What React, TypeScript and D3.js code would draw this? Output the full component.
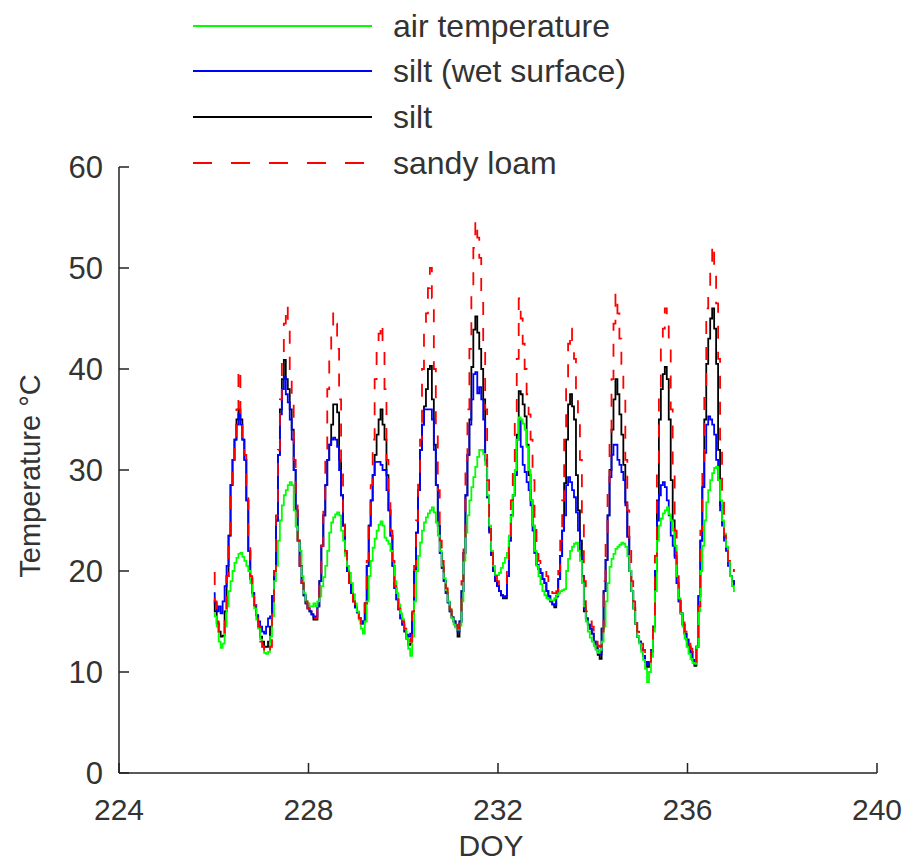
import React from "react";
import * as d3 from "d3";

// Hourly samples, DOY 226.00 .. 237.00 (one row per day, 24 values)
const START_DOY = 226;
const SAMPLES_PER_DAY = 24;

const airTemperature: number[] = [
  15.8, 15.5, 14.5, 13, 12.4, 12.8, 14.5, 16.5, 18, 19, 20, 20.8, 21.3, 21.7, 21.8, 21.4, 21, 20.5, 20, 18.8, 17.5, 16.3, 15.2, 14.3,
  13.2, 12.5, 11.9, 11.8, 12, 13.5, 15.5, 19, 20.5, 23, 25, 26.5, 27.5, 28, 28.5, 28.8, 28.5, 26, 24.4, 23, 22, 19.5, 17.8, 17,
  16.8, 16.5, 16.5, 16.8, 16.5, 17, 17.5, 18.5, 19.4, 20.5, 22, 23.8, 24.8, 25.3, 25.6, 25.8, 25.5, 24, 23, 21.5, 20.5, 19.8, 18.8, 17.7,
  16.8, 16, 15.2, 14.3, 13.8, 15, 17, 19.5, 21, 22.3, 23.2, 24, 24.6, 24.9, 24.5, 23.3, 23, 22.7, 22, 21, 19, 17.8, 16.7, 15.8,
  15.2, 14.3, 13.3, 12.3, 11.6, 13.5, 17, 20, 21.5, 22.8, 24, 24.8, 25.3, 25.7, 26, 26.3, 25.8, 24.8, 23.5, 22, 20.5, 19.3, 18.1, 17,
  16.2, 15.3, 14.7, 14.4, 14.2, 14.6, 17, 21, 23.8, 25.5, 27, 28.3, 29.3, 30.3, 31.3, 32, 32, 31.6, 30.5, 27.5, 24.5, 22, 20.5, 19.6,
  19.6, 19.8, 20.3, 20.8, 21.3, 21.8, 23.5, 25.4, 27.5, 30, 33, 35.2, 35, 34.6, 34, 32.3, 30, 27, 24.5, 22, 20.5, 19.5, 18.7, 18,
  17.6, 17.3, 17.2, 17.1, 17.1, 17.3, 17.6, 17.8, 18, 18.1, 18.2, 20, 21.2, 22, 22.4, 22.7, 22.8, 22, 21, 18.8, 16.5, 15, 14, 13.4,
  13, 12.6, 12.2, 11.9, 12.2, 13, 14.5, 17, 18.8, 20.4, 21.2, 21.7, 22.2, 22.4, 22.6, 22.8, 22.7, 22.4, 21.5, 20, 18, 16.3, 14.8, 13.5,
  12.8, 12, 11.2, 10.3, 9, 10, 11.5, 14, 18, 23, 24.5, 25.2, 25.7, 26, 26.3, 25.6, 25, 24, 22.5, 19.5, 17.3, 15.8, 14.5, 13.3,
  12.5, 11.8, 11.3, 10.9, 10.8, 12.5, 16, 20, 22.5, 25, 26.8, 28, 29, 29.7, 30.2, 30.3, 29, 27, 25, 23.7, 22.4, 21, 19.5, 18.5,
  18,
];

const siltWetSurface: number[] = [
  17.8, 16.8, 16, 16.5, 15.8, 17, 18.5, 20.5, 23.5, 28.5, 31, 33, 34.5, 35.5, 34.5, 33, 31, 27, 22, 19.2, 17.8, 16.6, 15.6, 15,
  14.5, 14, 13.8, 14.5, 15.3, 15.5, 17.5, 20, 25, 31.5, 35.5, 38, 39.2, 37.5, 36.7, 35, 33, 30, 26, 23, 20.5, 18.8, 17.6, 16.8,
  16.3, 16, 15.7, 15.4, 15.5, 16.5, 19, 22.5, 25.5, 28.5, 31, 32.5, 33, 33.2, 33, 32.3, 30, 27.5, 24.5, 21.8, 20, 18.8, 17.8, 17,
  16.4, 15.9, 15.3, 14.8, 15, 16.8, 20.5, 24.5, 27, 29.5, 30.8, 30.8, 30.8, 30.5, 30, 30, 28, 26, 23.5, 20.5, 18.3, 17.2, 16.2, 15.3,
  14.7, 14.2, 13.7, 13.5, 13.8, 15.8, 20, 23.8, 28, 32, 34.5, 36, 36, 36, 36, 35, 32, 28.5, 24.5, 21.8, 20.3, 19, 17.8, 16.9,
  16, 15.4, 15, 14.5, 14, 15, 18, 21.8, 27.5, 31.5, 34.5, 37, 39.5, 39.7, 37.6, 38.2, 37, 35, 31, 27.3, 23.8, 21.6, 20, 19,
  18.5, 18, 17.6, 17.4, 17.5, 19.5, 23, 25.5, 27.5, 29.5, 33, 35, 32.3, 30.5, 29.8, 28.8, 28, 26.5, 24, 21.8, 20.6, 20.2, 19.8, 19.2,
  18.8, 18, 17.5, 17, 16.7, 16.6, 17.5, 19.2, 21.5, 24, 25.5, 28.5, 29.3, 28.8, 28, 27.3, 25.8, 24, 21.5, 19.5, 16.3, 15.3, 14.7, 14.3,
  13.8, 13, 12.5, 12, 11.8, 14.3, 18, 21.1, 25.5, 29.3, 31.5, 32.5, 32.5, 31, 30.5, 29.8, 29, 26.5, 23.4, 20, 18, 16.3, 14.8, 13.5,
  13, 12.3, 11.6, 11, 10.7, 11, 12.2, 14.5, 20, 25, 27.5, 28.5, 28.8, 28.3, 27, 25.5, 23.5, 22.5, 21.3, 18.8, 17, 15.8, 14.7, 13.8,
  13.2, 12.5, 12, 11.2, 10.8, 12.5, 17.5, 23, 28.3, 31.7, 34.5, 35.3, 35, 34.5, 33.5, 31, 29, 26, 24.5, 23, 22, 20.5, 19.5, 19,
  18.6,
];

const silt: number[] = [
  17, 16, 14.8, 14, 13.5, 13.6, 16, 19.5, 23.5, 28.5, 31, 33, 35, 36, 35, 33, 31, 27, 22, 19.2, 17.8, 16.6, 15.6, 14.5,
  13.5, 13, 12.5, 12.5, 13, 14.5, 17.5, 20, 25, 31.5, 36, 39, 40.9, 39, 38, 36, 34, 30, 26, 23, 20.5, 18.8, 17.6, 16.8,
  16.3, 16, 15.7, 15.2, 15.2, 16.5, 19, 22.5, 25.5, 28.5, 31, 32.5, 34.5, 36.5, 36.5, 35.7, 31, 27.5, 24.5, 21.8, 20, 18.8, 17.8, 17,
  16.4, 15.9, 15.3, 14.8, 15, 16.8, 20.5, 24.5, 27, 29.5, 31.5, 33.5, 35, 36, 34.5, 33, 29.5, 26, 23.5, 20.5, 18.3, 17.2, 16.2, 15.3,
  14.7, 14, 13.3, 12.7, 12.8, 15.8, 20, 23.8, 28, 32, 34.5, 36.3, 38, 40, 40.3, 37, 32.5, 28.5, 24.5, 21.8, 20.3, 19, 17.8, 16.9,
  16, 15.4, 15, 14.5, 13.5, 15, 18, 21.8, 27.5, 31.5, 35, 40.2, 43.9, 45.2, 43.6, 42, 40, 37, 31, 27.3, 24, 21.6, 20, 19,
  18.5, 18, 17.6, 17.3, 17.3, 19.5, 23, 25.5, 27.5, 29.5, 33.5, 37.8, 37.5, 36.5, 35.3, 32.5, 29.5, 27, 24.5, 21.8, 20.6, 20.2, 19.8, 19.2,
  18.8, 18, 17.5, 17, 16.7, 16.4, 17.5, 19.2, 21.5, 24, 28.7, 33, 36.5, 37.5, 36.3, 35, 29.5, 26, 23, 19.5, 16, 15.3, 14.7, 14.3,
  13.8, 13, 12.3, 11.7, 11.3, 14.3, 18, 21.1, 25.5, 30, 34, 37, 39, 37.5, 35.5, 33.5, 30.5, 26.8, 23.4, 20, 18, 16.3, 14.8, 13.5,
  13, 12.3, 11.6, 11, 10.5, 11, 12, 14.5, 20, 27, 35, 38, 39.5, 40.2, 39, 35, 29, 25, 21.5, 18.8, 17, 15.8, 14.7, 13.8,
  13.2, 12.5, 12, 11.2, 10.6, 12.5, 17.5, 23, 28.3, 35, 40.5, 43, 45, 46, 44, 40.5, 32, 26.5, 24.8, 23.4, 22.3, 21, 19.5, 19,
  18.8,
];

const sandyLoam: number[] = [
  19.8, 17, 15, 14, 13.5, 13.6, 16, 19.5, 23.5, 28.5, 31, 33, 36, 40, 34.5, 33, 31.5, 27.5, 22.5, 19.5, 18, 16.6, 15.6, 14.5,
  13, 12.5, 12, 11.9, 11.8, 12.5, 16, 20, 25.5, 32, 37, 41, 44.5, 46.3, 44, 40, 36.5, 31, 26.5, 23, 20.5, 18.8, 17.8, 17,
  16.3, 16, 15.7, 15.3, 15.3, 16.5, 19, 22.5, 27, 32, 38, 41.5, 43.5, 45.5, 44.5, 42, 37, 30, 25, 22, 20, 18.8, 17.8, 17,
  16.4, 15.9, 15.3, 14.8, 15, 16.8, 21, 25, 28.5, 33, 39, 42, 43.5, 44.5, 42, 38, 31, 27, 24, 21, 18.5, 17.3, 16.3, 15.5,
  15, 14.3, 13.8, 13.3, 13, 16, 20.5, 25, 29, 33, 40, 44, 45.5, 48, 50, 47, 40, 34, 28, 23, 21, 19.5, 18.3, 17.2,
  16.2, 15.6, 15.2, 14.8, 14.3, 15.5, 19, 23, 31, 36, 42, 47.5, 52, 54.7, 53, 51, 47, 42, 36, 29, 24.5, 22, 20.5, 19.5,
  19, 18.6, 18.4, 18.4, 18.6, 20, 23.5, 27, 30, 35, 41, 47, 45, 42.5, 40, 37.5, 35.5, 33, 29, 25, 22.5, 21, 20.5, 20.3,
  20, 19.5, 19, 18.3, 17.8, 17.8, 18, 20, 23, 27, 33, 39, 42.5, 44, 42.5, 41, 38, 35, 31, 25, 19, 16, 15.5, 15,
  14.5, 13.8, 13, 12.6, 12.5, 14, 19, 23.5, 28, 33, 39, 44.5, 47.5, 45.5, 43, 40.5, 37.5, 31, 26, 22, 19, 17, 15.3, 14,
  13.5, 12.8, 12.2, 11.6, 11, 11, 12.5, 15.5, 21.5, 30, 38, 42.5, 44, 46, 45, 43, 36, 30, 24, 20, 17.5, 16, 15, 14,
  13.5, 12.8, 12.3, 11.6, 11, 12.5, 16.5, 24, 30, 38, 46, 48, 50, 52.3, 50, 46.5, 41, 33, 27, 23.5, 22, 21, 20.5, 20,
  20.1,
];

const xTicks = [224, 228, 232, 236, 240];
const yTicks = [0, 10, 20, 30, 40, 50, 60];

const seriesNames = ["air temperature", "silt (wet surface)", "silt", "sandy loam"];
const seriesColors = ["#00ff00", "#0000ff", "#000000", "#ff0000"];

const FONT = "'Liberation Sans', Arial, sans-serif";

export default function App() {
  const W = 906;
  const H = 866;
  const x = d3.scaleLinear().domain([224, 240]).range([119, 877]);
  const y = d3.scaleLinear().domain([0, 60]).range([773, 167]);

  const toPoints = (vals: number[]) =>
    vals.map((v, i) => [START_DOY + i / SAMPLES_PER_DAY, v] as [number, number]);

  const line = d3
    .line<[number, number]>()
    .x((d) => x(d[0]))
    .y((d) => y(d[1]))
    .curve(d3.curveStep);

  const series = [
    { name: seriesNames[2], color: seriesColors[2], vals: silt, dash: undefined },
    { name: seriesNames[1], color: seriesColors[1], vals: siltWetSurface, dash: undefined },
    { name: seriesNames[0], color: seriesColors[0], vals: airTemperature, dash: undefined },
    { name: seriesNames[3], color: seriesColors[3], vals: sandyLoam, dash: "13,13" },
  ];

  const legendY = [26, 71, 117, 163];
  const legendDash = [undefined, undefined, undefined, "19,19"];
  const axisColor = "#222";
  const textColor = "#333";

  return (
    <svg
      width={W}
      height={H}
      style={{ position: "absolute", left: 0, top: 0, background: "#fff" }}
      fontFamily={FONT}
    >
      <rect x={0} y={0} width={W} height={H} fill="#fff" />
      {/* data lines */}
      {series.map((s) => (
        <path
          key={s.name}
          d={line(toPoints(s.vals)) || ""}
          fill="none"
          stroke={s.color}
          strokeWidth={1.8}
          strokeDasharray={s.dash}
          strokeLinejoin="miter"
        />
      ))}

      {/* axes */}
      <line x1={x(224)} x2={x(240)} y1={y(0)} y2={y(0)} stroke={axisColor} strokeWidth={1.5} />
      <line x1={x(224)} x2={x(224)} y1={y(0)} y2={y(60)} stroke={axisColor} strokeWidth={1.5} />
      {xTicks.map((t) => (
        <g key={"xt" + t}>
          <line x1={x(t)} x2={x(t)} y1={y(0)} y2={y(0) - 10} stroke={axisColor} strokeWidth={1.5} />
          <text x={x(t)} y={820} textAnchor="middle" fontSize={30} fill={textColor}>
            {t}
          </text>
        </g>
      ))}
      {yTicks.map((t) => (
        <g key={"yt" + t}>
          <line x1={x(224)} x2={x(224) + 10} y1={y(t)} y2={y(t)} stroke={axisColor} strokeWidth={1.5} />
          <text x={103} y={y(t) + 11} textAnchor="end" fontSize={31} fill={textColor}>
            {t}
          </text>
        </g>
      ))}
      <text x={491} y={856} textAnchor="middle" fontSize={30} fill={textColor}>
        DOY
      </text>
      <text
        transform="translate(40,476) rotate(-90)"
        textAnchor="middle"
        fontSize={29}
        fill={textColor}
      >
        Temperature °C
      </text>

      {/* legend */}
      {seriesNames.map((n, i) => (
        <g key={"lg" + n}>
          <line
            x1={193}
            x2={372}
            y1={legendY[i]}
            y2={legendY[i]}
            stroke={seriesColors[i]}
            strokeWidth={2}
            strokeDasharray={legendDash[i]}
          />
          <text x={393} y={legendY[i] + 11} fontSize={32} fill={textColor}>
            {n}
          </text>
        </g>
      ))}
    </svg>
  );
}
